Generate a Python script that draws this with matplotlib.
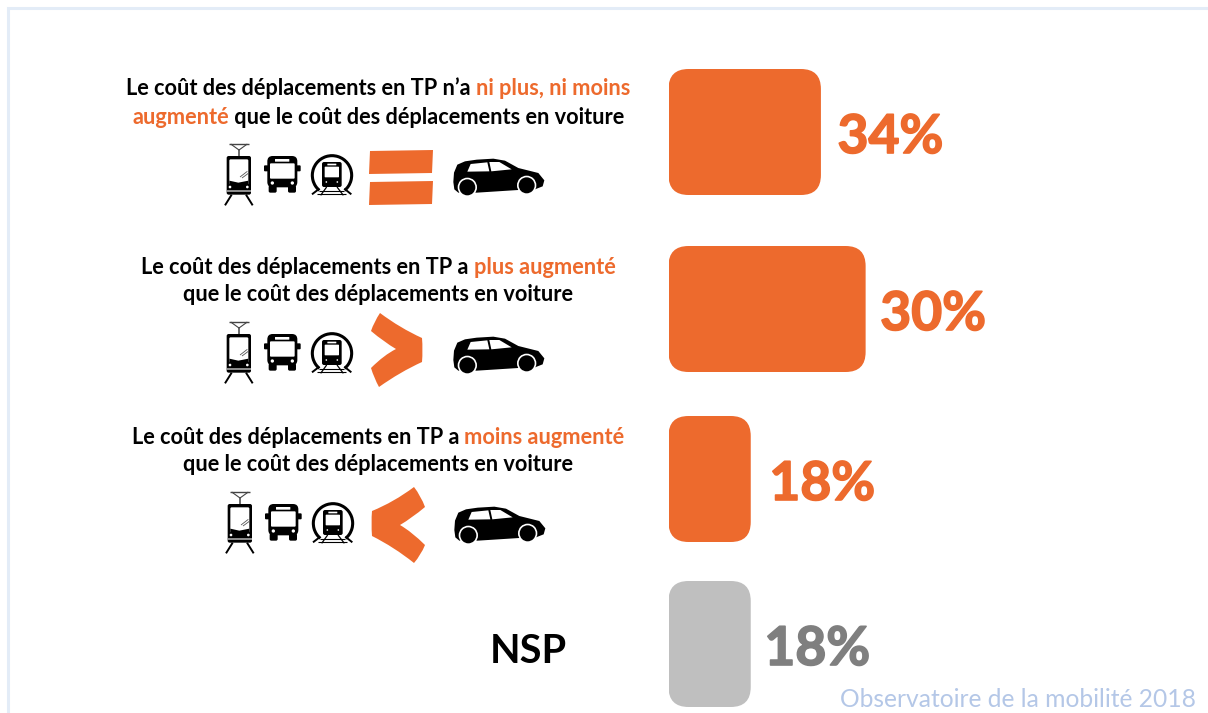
import matplotlib
matplotlib.use('Agg')
import matplotlib.pyplot as plt
import matplotlib.patheffects as pe
from matplotlib.patches import FancyBboxPatch, Circle, Polygon, PathPatch, Arc, Rectangle
from matplotlib.path import Path

# Labels printed next to the bars
value_labels = ['34%', '30%', '18%', '18%']
# Bar lengths as drawn in the picture (the 30% bar really is the longest one)
bar_lengths = [34, 44, 18.3, 18.3]

ORANGE = '#ED6A2D'
GREY_BAR = '#BFBFBF'
GREY_TXT = '#7F7F7F'
BLUE_TXT = '#B4C7E7'
BORDER = '#E3ECF7'

# (text, is_orange) pieces for each line of each question
row_text = [
    [[('Le coût des déplacements en TP n’a ', 0), ('ni plus, ni moins', 1)],
     [('augmenté', 1), (' que le coût des déplacements en voiture', 0)]],
    [[('Le coût des déplacements en TP a ', 0), ('plus augmenté', 1)],
     [('que le coût des déplacements en voiture', 0)]],
    [[('Le coût des déplacements en TP a ', 0), ('moins augmenté', 1)],
     [('que le coût des déplacements en voiture', 0)]],
]
nsp_label = 'NSP'
source_label = 'Observatoire de la mobilité 2018'

W, H = 1208, 713
fig = plt.figure(figsize=(W / 100, H / 100), dpi=100, facecolor='white')

# pixel axes for texts and icons
ax = fig.add_axes([0, 0, 1, 1])
ax.set_xlim(0, W)
ax.set_ylim(H, 0)
ax.axis('off')

# bar axes: zero at the left edge of the bars
PX_PER_UNIT = 4.47
X0 = 668.5
ax_b = fig.add_axes([X0 / W, 0, (W - X0) / W, 1])
ax_b.set_xlim(0, (W - X0) / PX_PER_UNIT)
ax_b.set_ylim(H, 0)
ax_b.axis('off')
ax_b.patch.set_alpha(0)

# frame of the slide
ax.plot([7.5, 7.5, W], [H, 7.5, 7.5], color=BORDER, lw=2.2, solid_joinstyle='miter')

bar_centers = [132, 309, 479, 644]
bar_height = 126
label_colors = [ORANGE, ORANGE, ORANGE, GREY_TXT]
bar_colors = [ORANGE, ORANGE, ORANGE, GREY_BAR]
label_gap = [17, 15, 19, 14]
for yc, length, lab, bc, lc, gap in zip(bar_centers, bar_lengths, value_labels, bar_colors, label_colors, label_gap):
    r = 20
    ax_b.add_patch(FancyBboxPatch((0, yc - bar_height / 2), length + 0.1, bar_height,
                                  boxstyle=f'round,pad=0,rounding_size={r / PX_PER_UNIT}',
                                  mutation_aspect=PX_PER_UNIT, fc=bc, ec='none'))
    ax_b.text(length + gap / PX_PER_UNIT, yc + 21, lab, color=lc, fontsize=38.5,
              fontweight='bold', family='Lato', ha='left', va='baseline',
              path_effects=[pe.withStroke(linewidth=1.2, foreground=lc)])

renderer = fig.canvas.get_renderer()


def seg_width(s, size):
    # bars around the string so that leading/trailing spaces are measured
    t1 = ax.text(0, 0, '|' + s + '|', fontsize=size, fontweight='bold', family='Lato')
    t2 = ax.text(0, 0, '||', fontsize=size, fontweight='bold', family='Lato')
    w = t1.get_window_extent(renderer).width - t2.get_window_extent(renderer).width
    t1.remove()
    t2.remove()
    return w


def draw_line(segs, xc, y, size):
    widths = [seg_width(s, size) for s, _ in segs]
    x = xc - sum(widths) / 2
    for (s, orange), w in zip(segs, widths):
        ax.text(x, y, s, fontsize=size, fontweight='bold', family='Lato',
                color=ORANGE if orange else 'black', ha='left', va='baseline')
        x += w


line_y = [(95, 124), (274, 301), (444, 471)]
for lines, ys in zip(row_text, line_y):
    for segs, y in zip(lines, ys):
        draw_line(segs, 378, y, 15.7)

ax.text(528, 663, nsp_label, fontsize=28.5, fontweight='bold', family='Lato', ha='center', va='baseline')
ax.text(1196, 707, source_label, fontsize=17.75, family='Lato', color=BLUE_TXT, ha='right', va='baseline')


# icons are described in zoomed units (1/3 px), dx/dy moves them to their row
def icons(dx, dy):
    def P(x, y):
        return (x / 3 + dx, y / 3 + dy)

    def rrect(x0, y0, x1, y1, r, fc='black'):
        ax.add_patch(FancyBboxPatch(P(x0, y0), (x1 - x0) / 3, (y1 - y0) / 3,
                                    boxstyle=f'round,pad=0,rounding_size={r / 3}', fc=fc, ec='none'))

    def line(pts, lw=1.5, c='black'):
        xy = [P(*p) for p in pts]
        ax.plot([p[0] for p in xy], [p[1] for p in xy], color=c, lw=lw, solid_capstyle='butt')

    def dot(x, y, r, fc='white'):
        ax.add_patch(Circle(P(x, y), r / 3, fc=fc, ec='none'))

    # tram
    rrect(50, 72, 123, 188, 6)
    rrect(58, 82, 115, 158, 4, 'white')
    ax.add_patch(Polygon([P(58, 146), P(85, 152), P(115, 146), P(115, 162), P(58, 162)], fc='black', ec='none'))
    line([(90, 135), (112, 118)], 0.6, '#555555')
    line([(96, 138), (115, 124)], 0.6, '#555555')
    dot(60, 165, 4)
    dot(112, 165, 4)
    ax.add_patch(Rectangle(P(50, 175), 73 / 3, 6 / 3, fc='#8C8C8C', ec='none'))
    line([(87, 72), (87, 52)], 1.1, '#444444')
    line([(58, 35), (116, 35)], 1.0, '#444444')
    line([(62, 36), (87, 54), (112, 36)], 0.8, '#444444')
    line([(65, 188), (45, 220)], 1.4)
    line([(108, 188), (128, 220)], 1.4)

    # bus
    rrect(172, 72, 262, 166, 16)
    rrect(162, 100, 175, 118, 3)
    rrect(259, 100, 272, 118, 3)
    rrect(180, 94, 254, 140, 3, 'white')
    rrect(195, 81, 238, 89, 1, 'white')
    rrect(176, 160, 200, 182, 5)
    rrect(234, 160, 258, 182, 5)
    dot(187, 153, 5)
    dot(247, 153, 5)

    # metro
    ax.add_patch(Arc(P(366, 130), 118 / 3, 118 / 3, theta1=130, theta2=50, lw=2.2, color='black'))
    rrect(336, 90, 395, 165, 6)
    rrect(344, 104, 387, 136, 2, 'white')
    rrect(352, 95, 379, 100, 1, 'white')
    dot(349, 150, 2.5)
    dot(382, 150, 2.5)
    line([(350, 165), (332, 190)], 0.9)
    line([(381, 165), (400, 190)], 0.9)
    line([(328, 178), (402, 178)], 0.8)
    line([(322, 187), (408, 187)], 0.8)
    line([(328, 170), (306, 187)], 1.4)
    line([(403, 170), (424, 187)], 1.4)

    # car
    body = [(730, 150), (732, 122), (742, 98), (765, 88), (800, 83), (850, 80), (885, 86), (925, 108),
            (985, 123), (1003, 145), (998, 163), (975, 172), (925, 174), (800, 182), (745, 182), (733, 172)]
    ax.add_patch(Polygon([P(*p) for p in body], fc='black', ec='none', joinstyle='round'))
    ax.add_patch(Polygon([P(772, 119), P(782, 96), P(832, 91), P(838, 118)], fc='white', ec='none'))
    ax.add_patch(Polygon([P(844, 118), P(838, 90), P(868, 90), P(905, 112)], fc='white', ec='none'))
    dot(772, 166, 29)
    dot(772, 166, 24, 'black')
    dot(950, 160, 29)
    dot(950, 160, 24, 'black')


icon_offsets = [(210, 132), (210, 310), (211, 480)]
for dx, dy in icon_offsets:
    icons(dx, dy)


def chevron(pts):
    # pts are (corner, control, corner, ...) closed with quadratic edges
    verts = [pts[0]]
    codes = [Path.MOVETO]
    for i in range(1, len(pts) - 1, 2):
        verts += [pts[i], pts[i + 1]]
        codes += [Path.CURVE3, Path.CURVE3]
    verts.append(pts[0])
    codes.append(Path.CLOSEPOLY)
    ax.add_patch(PathPatch(Path(verts, codes), fc=ORANGE, ec='none'))


# equal sign
ax.add_patch(Polygon([(370, 151), (433, 150), (432, 173), (369, 174)], fc=ORANGE, ec='none'))
ax.add_patch(Polygon([(370, 182), (433, 181), (432, 204), (369, 205)], fc=ORANGE, ec='none'))

# greater than
chevron([(380, 313), (400, 328), (422, 338), (423, 350), (422, 362), (400, 372), (379, 387),
         (374, 378), (371, 368), (384, 355), (396, 349), (384, 342), (371, 331), (374, 322), (380, 313)])
# less than
chevron([(414, 487), (394, 502), (372, 511), (371, 523), (372, 536), (394, 547), (414, 563),
         (421, 555), (425, 545), (412, 532), (400, 525), (412, 518), (425, 507), (421, 496), (414, 487)])

fig.savefig('out.png', dpi=100)
